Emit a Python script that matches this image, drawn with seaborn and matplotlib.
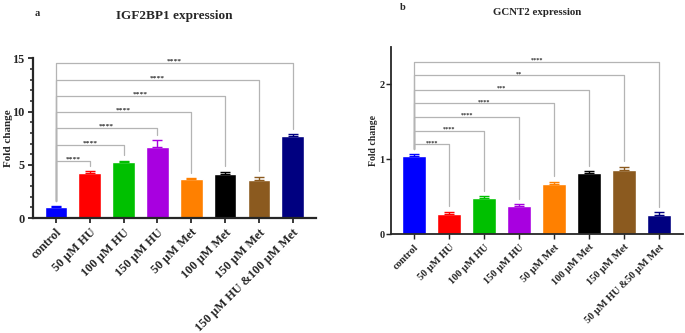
import numpy as np
import pandas as pd
import matplotlib
matplotlib.use("Agg")
import matplotlib.pyplot as plt
import seaborn as sns
from matplotlib.ticker import MultipleLocator

# ---- data ----
treatmentsA = ["control", "50 µM HU", "100 µM HU", "150 µM HU",
               "50 µM Met", "100 µM Met", "150 µM Met", "150 µM HU &100 µM Met"]
foldChangeA = [1.05, 4.25, 5.25, 6.65, 3.65, 4.15, 3.60, 7.75]
errorA = [0.05, 0.15, 0.15, 0.65, 0.10, 0.20, 0.30, 0.10]
bracketLevelsA = [5.4, 6.9, 8.45, 9.95, 11.5, 13.0, 14.55]
starsA = ["****", "****", "****", "****", "****", "****", "****"]

treatmentsB = ["control", "50 µM HU", "100 µM HU", "150 µM HU",
               "50 µM Met", "100 µM Met", "150 µM Met", "50 µM HU &50 µM Met"]
foldChangeB = [1.04, 0.27, 0.48, 0.38, 0.67, 0.82, 0.86, 0.26]
errorB = [0.03, 0.03, 0.03, 0.02, 0.03, 0.02, 0.04, 0.03]
bracketLevelsB = [1.20, 1.38, 1.57, 1.75, 1.93, 2.12, 2.30]
starsB = ["****", "****", "****", "****", "***", "**", "****"]

barColors = ["#0000ff", "#ff0000", "#00c000", "#a800e0",
             "#ff8000", "#000000", "#8b5a1f", "#000080"]


def drawPanel(ax, treatments, values, errors, levels, stars, legGap,
              tickSize, labelSize, starSize, spineWidth, yTickPad):
    frame = pd.DataFrame({"Treatment": treatments, "FoldChange": values})
    sns.barplot(data=frame, x="Treatment", y="FoldChange", hue="Treatment",
                palette=barColors, width=0.67, saturation=1, errorbar=None,
                legend=False, ax=ax, zorder=2)

    # upward-only error bars in the bar colour
    for idx, (val, err) in enumerate(zip(values, errors)):
        ax.errorbar(idx, val, yerr=[[0], [err]], fmt="none",
                    ecolor=barColors[idx], elinewidth=1.0, capsize=3.5,
                    capthick=1.0, zorder=3)

    # significance brackets, all starting from the control bar
    baseTop = values[0] + errors[0] + legGap
    for right, (level, star) in enumerate(zip(levels, stars), start=1):
        rightTop = values[right] + errors[right] + legGap
        ax.plot([0, 0, right, right], [baseTop, level, level, rightTop],
                color="#b4b4b4", lw=0.9, clip_on=False, zorder=1)
        ax.text(right / 2, level, star, ha="center", va="baseline",
                fontsize=starSize, fontweight="bold")

    sns.despine(ax=ax)
    ax.spines["left"].set_linewidth(spineWidth)
    ax.spines["bottom"].set_linewidth(spineWidth)
    ax.tick_params(axis="both", direction="out", length=3.6,
                   width=spineWidth * 0.8, labelsize=tickSize)
    ax.tick_params(axis="y", pad=yTickPad)
    ax.tick_params(axis="x", pad=2.5)
    ax.tick_params(axis="y", which="minor", length=2.5, width=spineWidth * 0.7)
    ax.set_xlabel("")
    ax.set_ylabel("Fold change", fontsize=labelSize, fontweight="bold")
    for lbl in ax.get_xticklabels():
        lbl.set_rotation(45)
        lbl.set_ha("right")
        lbl.set_va("top")
        lbl.set_rotation_mode("anchor")
        lbl.set_fontweight("bold")
    for lbl in ax.get_yticklabels():
        lbl.set_fontweight("bold")


sns.set_style("ticks")
plt.rcParams["font.family"] = ["Liberation Serif", "DejaVu Serif"]
plt.rcParams["font.weight"] = "bold"

fig = plt.figure(figsize=(6.85, 3.33), dpi=100)

axA = fig.add_axes([0.048, 0.345, 0.413, 0.48])
drawPanel(axA, treatmentsA, foldChangeA, errorA, bracketLevelsA, starsA,
          legGap=0.5, tickSize=8.8, labelSize=8, starSize=5.4, spineWidth=1.6,
          yTickPad=2.5)
axA.set_ylim(0, 15)
axA.set_xlim(-0.68, 7.68)
axA.set_yticks([0, 5, 10, 15])
axA.yaxis.set_minor_locator(MultipleLocator(1))
axA.yaxis.set_label_coords(-0.071, 0.5)

axB = fig.add_axes([0.571, 0.297, 0.426, 0.562])
drawPanel(axB, treatmentsB, foldChangeB, errorB, bracketLevelsB, starsB,
          legGap=0.07, tickSize=7.5, labelSize=7, starSize=4.4, spineWidth=1.3,
          yTickPad=1.0)
axB.set_ylim(0, 2.5)
axB.set_xlim(-0.66, 7.69)
axB.set_yticks([0, 1, 2])
axB.yaxis.labelpad = 1

fig.text(0.054, 0.96, "a", fontsize=7.5, fontweight="bold", ha="center", va="center")
fig.text(0.255, 0.952, "IGF2BP1 expression", fontsize=9.5, fontweight="bold",
         ha="center", va="center")
fig.text(0.588, 0.977, "b", fontsize=7.5, fontweight="bold", ha="center", va="center")
fig.text(0.784, 0.961, "GCNT2 expression", fontsize=7.8, fontweight="bold",
         ha="center", va="center")

fig.savefig("out.png", dpi=100)
